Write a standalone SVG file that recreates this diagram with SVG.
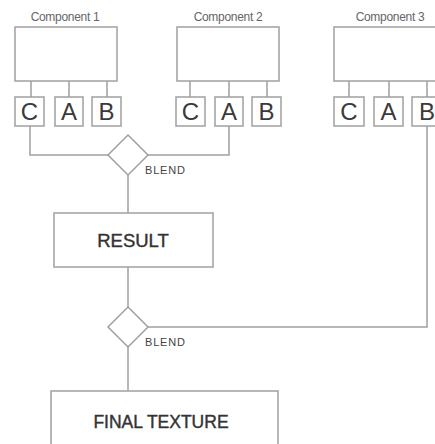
<svg xmlns="http://www.w3.org/2000/svg" width="435" height="444" viewBox="0 0 435 444">
<style>
.box{fill:#fff;stroke:#a0a0a0;stroke-width:1.5}
.ln{fill:none;stroke:#a0a0a0;stroke-width:1.5}
.lbl{font-family:"Liberation Sans",Arial,sans-serif;font-size:12px;fill:#666;text-anchor:middle;letter-spacing:-0.3px}
.port{font-family:"Liberation Sans",Arial,sans-serif;font-size:24px;fill:#3a3a3a;text-anchor:middle}
.blend{font-family:"Liberation Sans",Arial,sans-serif;font-size:11px;fill:#444;letter-spacing:0.8px}
.big{font-family:"Liberation Sans",Arial,sans-serif;fill:#333;stroke:#333;stroke-width:0.4;text-anchor:middle}
</style>
<rect width="435" height="444" fill="#fff"/>
<g id="connectors">
  <path class="ln" d="M31,81V97M69,81V97M107,81V97"/>
  <path class="ln" d="M190,81V97M229,81V97M267,81V97"/>
  <path class="ln" d="M349,81V97M389,81V97M427,81V97"/>
  <path class="ln" d="M30,126V155H108"/>
  <path class="ln" d="M148,155H229V126"/>
  <path class="ln" d="M128,175V213"/>
  <path class="ln" d="M128,267V307"/>
  <path class="ln" d="M148,327H427V126"/>
  <path class="ln" d="M128,347V391"/>
</g>
<g id="component1">
  <text class="lbl" x="65" y="21">Component 1</text>
  <rect class="box" x="15" y="27" width="102" height="54"/>
</g>
<g id="c1-C"><rect class="box" x="15" y="97" width="29" height="29"/><text class="port" x="29.5" y="120">C</text></g>
<g id="c1-A"><rect class="box" x="55" y="97" width="28" height="29"/><text class="port" x="69" y="120">A</text></g>
<g id="c1-B"><rect class="box" x="92" y="97" width="29" height="29"/><text class="port" x="106.5" y="120">B</text></g>
<g id="component2">
  <text class="lbl" x="228" y="21">Component 2</text>
  <rect class="box" x="177" y="27" width="102" height="54"/>
</g>
<g id="c2-C"><rect class="box" x="176" y="97" width="29" height="29"/><text class="port" x="190.5" y="120">C</text></g>
<g id="c2-A"><rect class="box" x="215" y="97" width="28" height="29"/><text class="port" x="229" y="120">A</text></g>
<g id="c2-B"><rect class="box" x="252" y="97" width="29" height="29"/><text class="port" x="266.5" y="120">B</text></g>
<g id="component3">
  <text class="lbl" x="390" y="21">Component 3</text>
  <rect class="box" x="334" y="27" width="110" height="54"/>
</g>
<g id="c3-C"><rect class="box" x="334" y="97" width="30" height="29"/><text class="port" x="349" y="120">C</text></g>
<g id="c3-A"><rect class="box" x="374" y="97" width="29" height="29"/><text class="port" x="388.5" y="120">A</text></g>
<g id="c3-B"><rect class="box" x="412" y="97" width="30" height="29"/><text class="port" x="427" y="120">B</text></g>
<g id="blend1">
  <polygon class="box" points="128,135 148,155 128,175 108,155"/>
  <text class="blend" x="145" y="174">BLEND</text>
</g>
<g id="result">
  <rect class="box" x="54" y="213" width="159" height="54"/>
  <text class="big" x="133" y="247" font-size="18.5">RESULT</text>
</g>
<g id="blend2">
  <polygon class="box" points="128,307 148,327 128,347 108,327"/>
  <text class="blend" x="145" y="346">BLEND</text>
</g>
<g id="final">
  <rect class="box" x="51" y="391" width="227" height="60"/>
  <text class="big" x="161" y="428" font-size="17.5">FINAL TEXTURE</text>
</g>
</svg>
